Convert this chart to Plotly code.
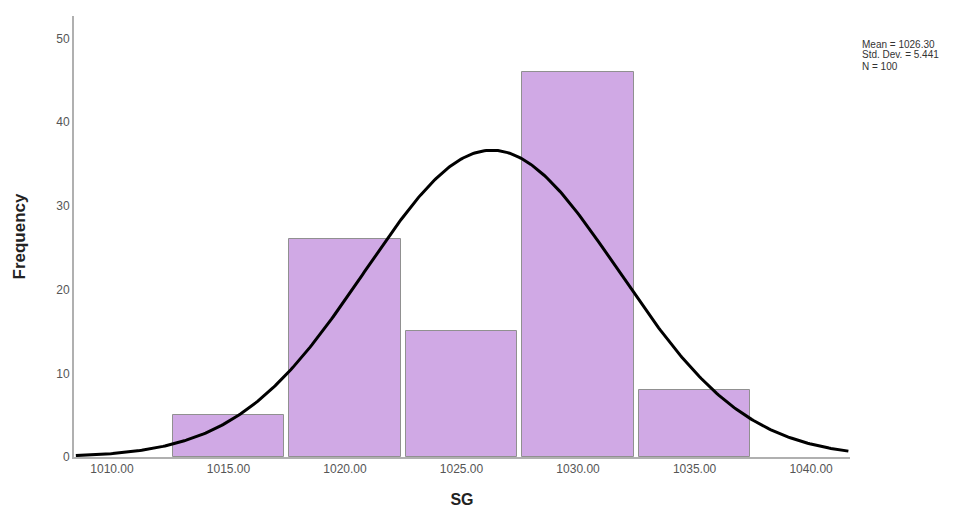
import numpy as np
import plotly.graph_objects as go

# Data
bin_centers = [1015.0, 1020.0, 1025.0, 1030.0, 1035.0]
frequencies = [5, 26, 15, 46, 8]
bin_width = 5.0
mean_sg = 1026.30
sd_sg = 5.441
n_obs = 100
x_tickvals = [1010, 1015, 1020, 1025, 1030, 1035, 1040]
x_ticktext = ["1010.00", "1015.00", "1020.00", "1025.00", "1030.00", "1035.00", "1040.00"]
y_tickvals = [0, 10, 20, 30, 40, 50]
stats_lines = ["Mean = 1026.30", "Std. Dev. = 5.441", "N = 100"]

x_range = [1008.37, 1041.67]

# Fitted normal curve (from stated mean / sd / N)
xs = np.linspace(1008.45, 1041.6, 400)
ys = n_obs * bin_width / (sd_sg * np.sqrt(2 * np.pi)) * np.exp(-0.5 * ((xs - mean_sg) / sd_sg) ** 2)

L, R, T, B = 74, 121, 16, 51
W, H = 971, 508
plot_w = W - L - R
plot_h = H - T - B

def px_to_paper(xp, yp):
    return (xp - L) / plot_w, (H - B - yp) / plot_h

fig = go.Figure()
fig.add_trace(go.Bar(
    x=bin_centers, y=frequencies, width=4.8,
    marker=dict(color="#d0a9e5", line=dict(color="#909090", width=1)),
    showlegend=False, hoverinfo="x+y",
))
fig.add_trace(go.Scatter(
    x=xs, y=ys, mode="lines", line=dict(color="black", width=3),
    showlegend=False, hoverinfo="skip",
))

annotations = []
for i, line in enumerate(stats_lines):
    ax, ay = px_to_paper(860, 44 + 11 * i)
    annotations.append(dict(
        x=ax, y=ay, xref="paper", yref="paper", showarrow=False,
        text=line, align="left", xanchor="left", yanchor="middle",
        font=dict(size=10, color="#333333"),
    ))

fig.update_layout(
    width=W, height=H,
    template="none",
    margin=dict(l=L, r=R, t=T, b=B, autoexpand=False),
    plot_bgcolor="white", paper_bgcolor="white",
    font=dict(family="Liberation Sans, Arial, sans-serif", color="#555555", size=12),
    xaxis=dict(
        range=x_range, tickvals=x_tickvals, ticktext=x_ticktext,
        showgrid=False, zeroline=False, showline=True, linecolor="#b0b0b0", linewidth=2,
        ticks="", automargin=False, tickfont=dict(size=12, color="#555555"),
        title=dict(text="<b>SG</b>", font=dict(size=16, color="#222222"), standoff=21),
    ),
    yaxis=dict(
        range=[0, 52.7], tickvals=y_tickvals,
        showgrid=False, zeroline=False, showline=True, linecolor="#b0b0b0", linewidth=2,
        ticks="", automargin=False, tickfont=dict(size=12, color="#555555"),
        title=dict(text="<b>Frequency</b>", font=dict(size=17, color="#222222"), standoff=26),
    ),
    annotations=annotations,
    bargap=0,
)

fig.write_html("out.html", config={"displayModeBar": False},
               post_script="document.body.style.margin='0';")
